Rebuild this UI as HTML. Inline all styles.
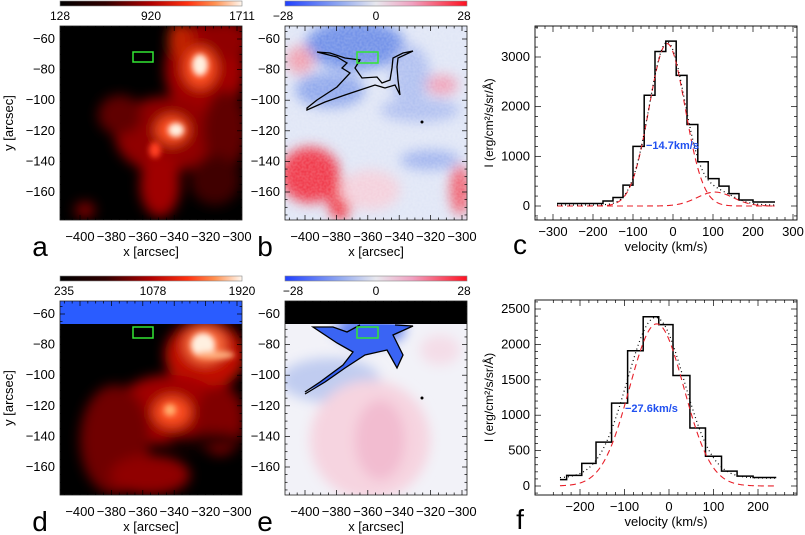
<!DOCTYPE html>
<html><head><meta charset="utf-8"><style>
body{margin:0;background:#fff}
svg{display:block;font-family:"Liberation Sans",sans-serif}
</style></head><body>
<svg id="fig" width="805" height="535" viewBox="0 0 805 535" xmlns="http://www.w3.org/2000/svg">
<defs>
<linearGradient id="hot" x1="0" x2="1"><stop offset="0" stop-color="#000"/><stop offset="0.25" stop-color="#300000"/><stop offset="0.5" stop-color="#b00000"/><stop offset="0.7" stop-color="#ff3010"/><stop offset="0.85" stop-color="#ff9050"/><stop offset="1" stop-color="#fff8f0"/></linearGradient>
<linearGradient id="bwr" x1="0" x2="1"><stop offset="0" stop-color="#2040ff"/><stop offset="0.3" stop-color="#90a8f0"/><stop offset="0.5" stop-color="#e8e8ee"/><stop offset="0.7" stop-color="#f0a0c0"/><stop offset="1" stop-color="#ff1020"/></linearGradient>
<filter id="bl6"><feGaussianBlur stdDeviation="6"/></filter>
<filter id="bl3"><feGaussianBlur stdDeviation="3"/></filter>
<filter id="noise"><feTurbulence type="fractalNoise" baseFrequency="0.45" numOctaves="1" seed="3"/><feColorMatrix values="0 0 0 0 1  0 0 0 0 1  0 0 0 0 1  0 0 0 0.5 -0.1"/></filter>
<clipPath id="ca"><rect x="60" y="26" width="182" height="194"/></clipPath>
<clipPath id="cb"><rect x="285" y="26" width="182" height="194"/></clipPath>
<clipPath id="cd"><rect x="60" y="301" width="182" height="194"/></clipPath>
<clipPath id="ce"><rect x="285" y="301" width="182" height="194"/></clipPath>
</defs>

<rect x="60" y="1" width="182" height="5" fill="url(#hot)" stroke="#888" stroke-width="0.6"/>
<rect x="285" y="1" width="182" height="5" fill="url(#bwr)" stroke="#888" stroke-width="0.6"/>
<rect x="60" y="276" width="182" height="5" fill="url(#hot)" stroke="#888" stroke-width="0.6"/>
<rect x="285" y="276" width="182" height="5" fill="url(#bwr)" stroke="#888" stroke-width="0.6"/>
<g font-size="12" fill="#000">
<text x="60" y="20" text-anchor="middle">128</text><text x="151" y="20" text-anchor="middle">920</text><text x="242" y="20" text-anchor="middle">1711</text>
<text x="283" y="20" text-anchor="middle">−28</text><text x="376" y="20" text-anchor="middle">0</text><text x="464" y="20" text-anchor="middle">28</text>
<text x="64" y="295" text-anchor="middle">235</text><text x="153" y="295" text-anchor="middle">1078</text><text x="242" y="295" text-anchor="middle">1920</text>
<text x="293" y="295" text-anchor="middle">−28</text><text x="376" y="295" text-anchor="middle">0</text><text x="464" y="295" text-anchor="middle">28</text>
</g>

<g clip-path="url(#ca)">
<rect x="60" y="26" width="182" height="194" fill="#000"/>
<g filter="url(#bl6)">
<ellipse cx="205" cy="70" rx="40" ry="48" fill="#a00000"/>
<ellipse cx="225" cy="40" rx="25" ry="20" fill="#900000"/>
<ellipse cx="165" cy="135" rx="50" ry="38" fill="#900000"/>
<ellipse cx="160" cy="185" rx="20" ry="32" fill="#a00000"/>
<ellipse cx="120" cy="115" rx="22" ry="20" fill="#600000"/>
<ellipse cx="225" cy="130" rx="22" ry="40" fill="#600000"/>
<ellipse cx="215" cy="180" rx="25" ry="25" fill="#400000"/>
<ellipse cx="180" cy="40" rx="12" ry="18" fill="#c02000"/>
<ellipse cx="200" cy="68" rx="16" ry="20" fill="#ff5020"/>
<ellipse cx="172" cy="130" rx="16" ry="14" fill="#ff5020"/>
<ellipse cx="85" cy="210" rx="10" ry="8" fill="#800000"/>
</g>
<g filter="url(#bl3)">
<ellipse cx="200" cy="65" rx="8" ry="11" fill="#fff0e0"/>
<ellipse cx="176" cy="130" rx="8" ry="7" fill="#fff0e0"/>
<ellipse cx="155" cy="150" rx="6" ry="8" fill="#ff4020"/>
</g>
</g>
<rect x="60" y="26" width="182" height="194" fill="none" stroke="#222" stroke-width="0.8"/>
<rect x="133" y="52" width="20" height="10" fill="none" stroke="#33e633" stroke-width="1.5"/>

<g clip-path="url(#cb)">
<rect x="285" y="26" width="182" height="194" fill="#e0e6f6"/>
<g filter="url(#bl6)">
<ellipse cx="355" cy="45" rx="50" ry="25" fill="#7090e8"/>
<ellipse cx="330" cy="90" rx="35" ry="18" fill="#90a8ec"/>
<ellipse cx="410" cy="75" rx="20" ry="30" fill="#b0c0f0"/>
<ellipse cx="420" cy="110" rx="40" ry="12" fill="#b0c0f0"/>
<ellipse cx="430" cy="160" rx="30" ry="10" fill="#a0b4ee"/>
<ellipse cx="310" cy="175" rx="30" ry="28" fill="#f03848"/>
<ellipse cx="340" cy="200" rx="12" ry="20" fill="#f03040"/>
<ellipse cx="300" cy="60" rx="14" ry="14" fill="#f0a0b0"/>
<ellipse cx="442" cy="85" rx="16" ry="10" fill="#f0a0b8"/>
<ellipse cx="460" cy="190" rx="10" ry="25" fill="#f06070"/>
<ellipse cx="370" cy="190" rx="30" ry="20" fill="#f4d0dc"/>
</g>
<rect x="285" y="26" width="182" height="194" filter="url(#noise)" opacity="0.6"/>
</g>
<rect x="285" y="26" width="182" height="194" fill="none" stroke="#222" stroke-width="0.8"/>
<path d="M307,108 L317,100 L337,87 L350,73 L342,68 L347,63 L337,57 L317,52 L330,53 L345,58 L360,60 L355,68 L362,78 L377,77 L382,83 L390,80 L392,68 L393,58 L403,53 L413,51 L398,58 L397,67 L398,80 L400,95 L395,85 L385,88 L375,85 L360,90 L345,95 L325,102 L307,110 Z" fill="none" stroke="#000" stroke-width="1.3"/>
<circle cx="422" cy="122" r="1.5" fill="#000"/>
<rect x="357" y="52" width="21" height="11" fill="none" stroke="#33e633" stroke-width="1.5"/>

<g clip-path="url(#cd)">
<rect x="60" y="301" width="182" height="194" fill="#000"/>
<g filter="url(#bl6)">
<ellipse cx="205" cy="355" rx="40" ry="35" fill="#c01000"/>
<ellipse cx="170" cy="410" rx="55" ry="35" fill="#a00000"/>
<ellipse cx="115" cy="440" rx="35" ry="55" fill="#700000"/>
<ellipse cx="150" cy="475" rx="40" ry="20" fill="#900000"/>
<ellipse cx="220" cy="420" rx="25" ry="35" fill="#800000"/>
<ellipse cx="172" cy="412" rx="18" ry="15" fill="#ff5020"/>
<ellipse cx="205" cy="345" rx="20" ry="18" fill="#ff7040"/>
<ellipse cx="205" cy="440" rx="40" ry="8" fill="#200000"/>
</g>
<g filter="url(#bl3)"><ellipse cx="203" cy="345" rx="12" ry="12" fill="#fff0e0"/><ellipse cx="215" cy="355" rx="20" ry="4" fill="#ffb080"/><ellipse cx="170" cy="410" rx="6" ry="6" fill="#ffb070"/></g>
<rect x="60" y="301" width="182" height="23" fill="#2a5cff"/>
</g>
<rect x="60" y="301" width="182" height="194" fill="none" stroke="#222" stroke-width="0.8"/>
<rect x="133" y="327" width="20" height="11" fill="none" stroke="#33e633" stroke-width="1.5"/>

<g clip-path="url(#ce)">
<rect x="285" y="301" width="182" height="194" fill="#f2f2f8"/>
<g filter="url(#bl6)">
<ellipse cx="330" cy="380" rx="50" ry="22" fill="#c0ccf0"/>
<ellipse cx="370" cy="330" rx="35" ry="15" fill="#6080f0"/>
<ellipse cx="370" cy="440" rx="60" ry="60" fill="#f6d4e0"/>
<ellipse cx="380" cy="440" rx="25" ry="40" fill="#f2bcd0"/>
<ellipse cx="440" cy="350" rx="20" ry="15" fill="#f4dde8"/>
</g>
<path d="M305,392 L320,382 L343,365 L353,352 L337,343 L313,327 L333,327 L347,332 L360,325 L395,325 L413,326 L393,335 L403,355 L397,368 L387,350 L365,355 L345,368 L325,382 Z" fill="#3a64f4"/>
<rect x="285" y="301" width="182" height="23" fill="#000"/>
</g>
<rect x="285" y="301" width="182" height="194" fill="none" stroke="#222" stroke-width="0.8"/>
<path d="M305,392 L320,382 L343,365 L353,352 L337,343 L313,327 L333,327 L347,332 L360,325 M395,325 L413,326 L393,335 L403,355 L397,368 L387,350 L365,355 L345,368 L325,382 L305,394" fill="none" stroke="#000" stroke-width="1.3"/>
<circle cx="422" cy="398" r="1.5" fill="#000"/>
<rect x="357" y="327" width="21" height="11" fill="none" stroke="#33e633" stroke-width="1.5"/>

<g id="imgaxes"></g>
<g id="specC"></g>
<g id="specF"></g>
</svg>
<script>
const NS="http://www.w3.org/2000/svg";
function mk(parent,tag,attrs,txt){const e=document.createElementNS(NS,tag);for(const k in attrs)e.setAttribute(k,attrs[k]);if(txt!==undefined)e.textContent=txt;parent.appendChild(e);return e;}

const xTickVals=[-400,-380,-360,-340,-320,-300];
const yTickVals=[-60,-80,-100,-120,-140,-160];
const panels=[{x0:60,y0:26,l:"a"},{x0:285,y0:26,l:"b"},{x0:60,y0:301,l:"d"},{x0:285,y0:301,l:"e"}];
const ga=document.getElementById('imgaxes');
panels.forEach(p=>{
  const xs=v=>p.x0+20+(v+400)*1.57;
  const ys=v=>p.y0+13+(-60-v)*1.53;
  const g=mk(ga,'g',{});
  
  
  for(let v=-410;v<=-296;v+=5){const x=xs(v);if(x<p.x0||x>p.x0+182)continue;const L=v%20===0?5:2.5;
    mk(g,'line',{x1:x,x2:x,y1:p.y0+194,y2:p.y0+194-L,stroke:"#000","stroke-width":0.7});
    mk(g,'line',{x1:x,x2:x,y1:p.y0,y2:p.y0+L,stroke:"#000","stroke-width":0.7});}
  for(let v=-50;v>=-180;v-=5){const y=ys(v);if(y<p.y0||y>p.y0+194)continue;const L=v%20===0?5:2.5;
    mk(g,'line',{x1:p.x0,x2:p.x0+L,y1:y,y2:y,stroke:"#000","stroke-width":0.7});
    mk(g,'line',{x1:p.x0+182,x2:p.x0+182-L,y1:y,y2:y,stroke:"#000","stroke-width":0.7});}
  xTickVals.forEach(v=>mk(g,'text',{x:xs(v),y:p.y0+215,"text-anchor":"middle","font-size":13},String(v).replace('-','−')));
  yTickVals.forEach(v=>mk(g,'text',{x:p.x0-5,y:ys(v)+4,"text-anchor":"end","font-size":13},String(v).replace('-','−')));
  mk(g,'text',{x:p.x0+91,y:p.y0+230,"text-anchor":"middle","font-size":13},"x [arcsec]");
  if(p.x0===60){mk(g,'text',{x:13,y:p.y0+97,"text-anchor":"middle","font-size":13,transform:`rotate(-90 13 ${p.y0+97})`},"y [arcsec]");}
  mk(g,'text',{x:p.x0-20,y:p.y0+230,"font-size":28,"text-anchor":"middle"},p.l);
});

const cEdges=[-290,-175,-150,-125,-100,-72,-45,-18,8,35,62,88,115,140,165,200,255];
const cValues=[50,100,170,420,1200,2230,3110,3320,2630,1640,890,550,400,250,120,80];
const cFit1=[3270,-14.7,45];
const cFit2=[280,105,45];
const cBack=[20];
const cXTicks=[-300,-200,-100,0,100,200,300];
const cYTicks=[0,1000,2000,3000];
const fEdges=[-245,-230,-196,-164,-129,-93,-58,-23,9,47,82,118,153,189,241];
const fValues=[90,150,320,620,1170,1910,2390,2280,1560,820,420,210,140,120];
const fFit=[2290,-27.6,61];
const fDot=[2270,-30,64,110];
const fXTicks=[-200,-100,0,100,200];
const fYTicks=[0,500,1000,1500,2000,2500];

function gauss(v,p){return p[0]*Math.exp(-0.5*Math.pow((v-p[1])/p[2],2));}
function spectrum(id,box,xs,ys,edges,vals,xt,yt,xMinor,yMinor,xr,yr,label,letter,labelPos,curves){
  const g=document.getElementById(id);
  
  
  mk(g,'rect',{x:box[0],y:box[1],width:box[2]-box[0],height:box[3]-box[1],fill:"none",stroke:"#000","stroke-width":0.9});
  for(let v=xr[0];v<=xr[1];v+=xMinor){const x=xs(v);if(x<box[0]||x>box[2])continue;
    const l=xt.includes(v)?6:3;
    mk(g,'line',{x1:x,x2:x,y1:box[3],y2:box[3]-l,stroke:"#000","stroke-width":0.7});
    mk(g,'line',{x1:x,x2:x,y1:box[1],y2:box[1]+l,stroke:"#000","stroke-width":0.7});}
  for(let v=yr[0];v<=yr[1];v+=yMinor){const y=ys(v);if(y<box[1]||y>box[3])continue;const l=yt.includes(v)?6:3;
    mk(g,'line',{x1:box[0],x2:box[0]+l,y1:y,y2:y,stroke:"#000","stroke-width":0.7});
    mk(g,'line',{x1:box[2],x2:box[2]-l,y1:y,y2:y,stroke:"#000","stroke-width":0.7});}
  xt.forEach(v=>mk(g,'text',{x:xs(v),y:box[3]+16,"text-anchor":"middle","font-size":13},String(v).replace('-','−')));
  yt.forEach(v=>mk(g,'text',{x:box[0]-5,y:ys(v)+4,"text-anchor":"end","font-size":13},String(v)));
  mk(g,'text',{x:(box[0]+box[2])/2,y:box[3]+31,"text-anchor":"middle","font-size":13},"velocity (km/s)");
  const cy=(box[1]+box[3])/2;
  mk(g,'text',{x:493,y:cy,"text-anchor":"middle","font-size":12,transform:`rotate(-90 493 ${cy})`},"I (erg/cm²/s/sr/Å)");
  mk(g,'text',{x:520,y:box[3]+34,"font-size":28,"text-anchor":"middle"},letter);
  let d=`M${xs(edges[0])},${ys(vals[0])}`;
  for(let i=0;i<vals.length;i++){d+=` L${xs(edges[i])},${ys(vals[i])} L${xs(edges[i+1])},${ys(vals[i])}`;}
  const h=mk(g,'path',{d:d,fill:"none",stroke:"#000","stroke-width":1.5});
  
  
  curves.forEach(c=>{
    let pd="";for(let v=edges[0];v<=edges[edges.length-1];v+=2){pd+=(pd?" L":"M")+xs(v)+","+ys(c.f(v));}
    const p=mk(g,'path',{d:pd,fill:"none",stroke:c.col,"stroke-width":c.w,"stroke-dasharray":c.dash});
    
    
  });
  mk(g,'text',{x:labelPos[0],y:labelPos[1],"font-size":11,"font-weight":"bold",fill:"#2050f0"},label);
}
spectrum('specC',[535,26,797,220],v=>553+(v+300)*0.4,I=>206-I*149/3000,cEdges,cValues,cXTicks,cYTicks,20,200,[-340,340],[-600,3600],"−14.7km/s","c",[646,149],[
 {f:v=>gauss(v,cFit1),col:"#e8202a",w:1.1,dash:"6,4",name:"fit-main-c"},
 {f:v=>gauss(v,cFit2),col:"#e8202a",w:1.1,dash:"6,4",name:"fit-second-c"},
 {f:v=>gauss(v,cFit1)+gauss(v,cFit2)+cBack[0],col:"#000",w:1.2,dash:"1,3",name:"fit-sum-c"}]);
spectrum('specF',[535,300,797,495],v=>580+(v+200)*0.445,I=>486-I*177/2500,fEdges,fValues,fXTicks,fYTicks,20,100,[-260,280],[-300,2700],"−27.6km/s","f",[625,412],[
 {f:v=>gauss(v,fFit),col:"#e8202a",w:1.1,dash:"6,4",name:"fit-main-f"},
 {f:v=>gauss(v,fDot)+fDot[3],col:"#000",w:1.2,dash:"1,3",name:"fit-dotted-f"}]);
</script>
</body></html>
